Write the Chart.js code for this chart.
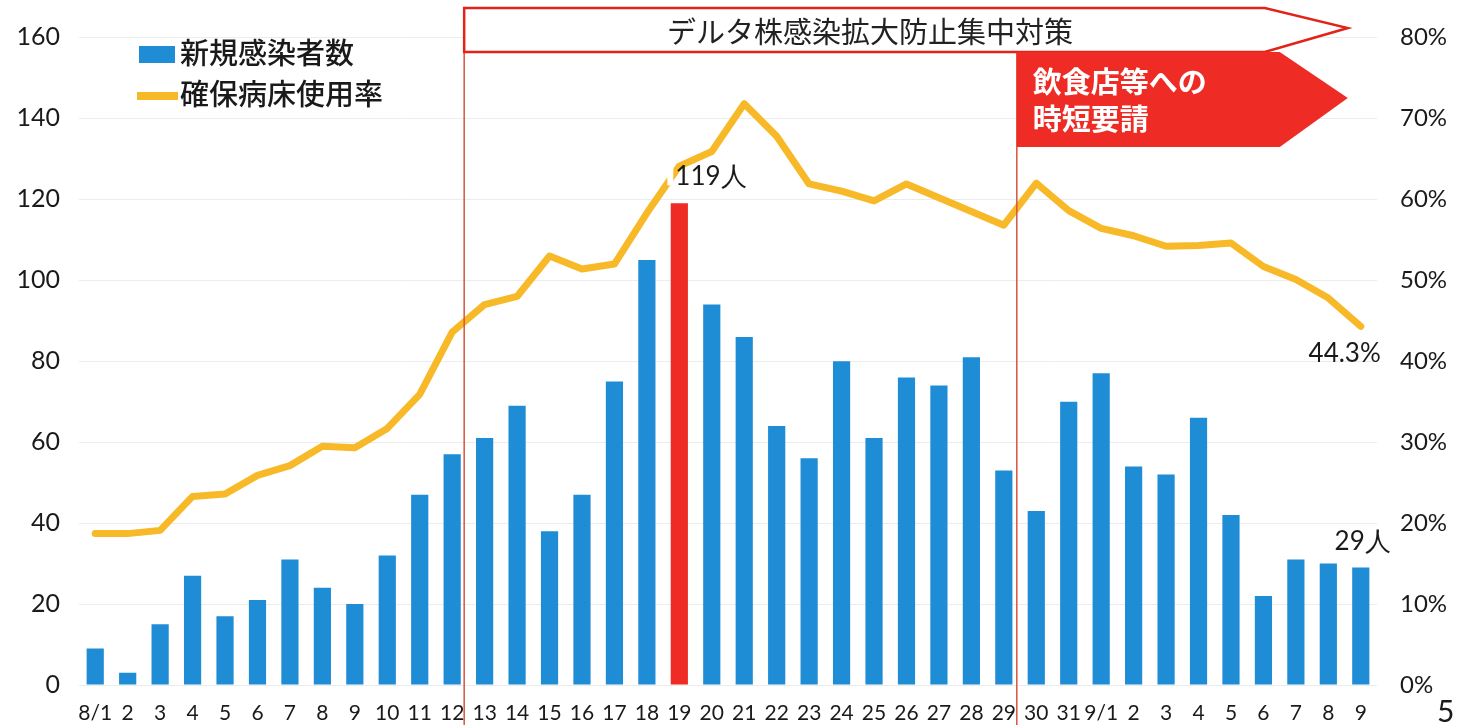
<!DOCTYPE html>
<html>
<head>
<meta charset="utf-8">
<script src="https://cdn.jsdelivr.net/npm/chart.js@4.4.0/dist/chart.umd.min.js"></script>
<style>
  body { margin: 0; background: #fff; }
  #wrap { width: 1467px; height: 725px; }
</style>
</head>
<body>
<div id="wrap"><canvas id="c" width="1467" height="725"></canvas></div>
<script>
const days = ['8/1','2','3','4','5','6','7','8','9','10','11','12','13','14','15','16','17','18','19','20',
  '21','22','23','24','25','26','27','28','29','30','31','9/1','2','3','4','5','6','7','8','9'];
const newCases = [9, 3, 15, 27, 17, 21, 31, 24, 20, 32, 47, 57, 61, 69, 38, 47, 75, 105, 119, 94,
  86, 64, 56, 80, 61, 76, 74, 81, 53, 43, 70, 77, 54, 52, 66, 42, 22, 31, 30, 29];
const bedRate = [18.7, 18.7, 19.1, 23.3, 23.6, 25.9, 27.1, 29.5, 29.3, 31.7, 35.9, 43.6, 47.0, 48.0, 53.0, 51.4, 52.0, 58.3, 64.1, 65.9,
  71.8, 67.8, 61.9, 61.0, 59.8, 61.9, 60.2, 58.5, 56.8, 62.0, 58.6, 56.4, 55.5, 54.2, 54.3, 54.6, 51.7, 50.1, 47.8, 44.3];
const leftTicks = [0, 20, 40, 60, 80, 100, 120, 140, 160];
const rightTicks = ['0%', '10%', '20%', '30%', '40%', '50%', '60%', '70%', '80%'];

const BLUE = '#1F8DD6';
const RED = '#EE2B24';
const GOLD = '#F8B928';
const JP = '"Noto Sans CJK JP", sans-serif';
const NUM = 'Lato, "Open Sans", sans-serif';

const peakIndex = newCases.indexOf(Math.max(...newCases));
const barColors = newCases.map((v, i) => i === peakIndex ? RED : BLUE);

const overlay = {
  id: 'overlay',
  afterDatasetsDraw(chart) {
    const ctx = chart.ctx;
    const xs = chart.scales.x;
    const ys = chart.scales.y;
    const y1 = chart.scales.y1;
    const step = xs.getPixelForValue(1) - xs.getPixelForValue(0);
    const xa = xs.getPixelForValue(11) + step * 0.37;
    const xb = xs.getPixelForValue(28) + step * 0.4;
    const tip = xs.getPixelForValue(days.length - 1) - 13;

    ctx.save();
    // white gap in the line behind 119人
    const px = xs.getPixelForValue(peakIndex);
    const py = ys.getPixelForValue(newCases[peakIndex]);
    ctx.fillStyle = '#fff';
    ctx.fillRect(px - 12, py - 40, 6, 22);

    // vertical period lines
    ctx.strokeStyle = '#D8553F';
    ctx.lineWidth = 1.5;
    ctx.beginPath();
    ctx.moveTo(xa, 8); ctx.lineTo(xa, 725);
    ctx.moveTo(xb, 52); ctx.lineTo(xb, 725);
    ctx.stroke();

    // top banner arrow
    ctx.beginPath();
    ctx.moveTo(xa, 8);
    ctx.lineTo(tip - 83, 8);
    ctx.lineTo(tip, 28);
    ctx.lineTo(tip - 83, 52);
    ctx.lineTo(xa, 52);
    ctx.closePath();
    ctx.fillStyle = '#fff';
    ctx.fill();
    ctx.strokeStyle = '#E2231A';
    ctx.lineWidth = 2.5;
    ctx.stroke();
    ctx.fillStyle = '#222';
    ctx.font = '29px ' + JP;
    ctx.textAlign = 'center';
    ctx.textBaseline = 'middle';
    ctx.fillText('デルタ株感染拡大防止集中対策', 870, 32);

    // red arrow box
    ctx.beginPath();
    ctx.moveTo(xb, 52);
    ctx.lineTo(tip - 68, 52);
    ctx.lineTo(tip, 98);
    ctx.lineTo(tip - 68, 147);
    ctx.lineTo(xb, 147);
    ctx.closePath();
    ctx.fillStyle = RED;
    ctx.fill();
    ctx.fillStyle = '#fff';
    ctx.font = 'bold 29px ' + JP;
    ctx.textAlign = 'left';
    ctx.fillText('飲食店等への', xb + 16, 82);
    ctx.fillText('時短要請', xb + 16, 119);

    // legend
    ctx.fillStyle = BLUE;
    ctx.fillRect(139, 46, 36, 17);
    ctx.strokeStyle = GOLD;
    ctx.lineWidth = 8;
    ctx.beginPath();
    ctx.moveTo(137, 96); ctx.lineTo(178, 96);
    ctx.stroke();
    ctx.fillStyle = '#1a1a1a';
    ctx.font = '500 29px ' + JP;
    ctx.fillText('新規感染者数', 180, 53);
    ctx.fillText('確保病床使用率', 180, 94);

    // value callouts
    ctx.fillStyle = '#1a1a1a';
    ctx.font = '26px ' + NUM;
    ctx.fillText(newCases[peakIndex] + '人', px - 4, py - 27);
    const last = days.length - 1;
    const lx = xs.getPixelForValue(last);
    ctx.textAlign = 'right';
    ctx.fillText(bedRate[last].toFixed(1) + '%', lx + 20, y1.getPixelForValue(bedRate[last]) + 27);
    ctx.fillText(newCases[last] + '人', lx + 30, ys.getPixelForValue(newCases[last]) - 26);

    // page number
    ctx.textAlign = 'left';
    ctx.font = '30px ' + NUM;
    ctx.fillText('5', 1437, 712);
    ctx.restore();
  }
};

new Chart(document.getElementById('c'), {
  data: {
    labels: days,
    datasets: [
      {
        type: 'line',
        label: '確保病床使用率',
        data: bedRate,
        yAxisID: 'y1',
        borderColor: GOLD,
        borderWidth: 7,
        pointRadius: 0,
        tension: 0,
        borderJoinStyle: 'round',
        borderCapStyle: 'round',
        order: 0
      },
      {
        type: 'bar',
        label: '新規感染者数',
        data: newCases,
        yAxisID: 'y',
        backgroundColor: barColors,
        barPercentage: 0.53,
        categoryPercentage: 1.0,
        order: 1
      }
    ]
  },
  options: {
    responsive: false,
    animation: false,
    layout: { padding: { top: 27, left: 0, right: 0, bottom: 0 } },
    plugins: { legend: { display: false }, tooltip: { enabled: false } },
    scales: {
      x: {
        grid: { display: false },
        border: { display: false },
        ticks: { font: { family: NUM, size: 21 }, color: '#1a1a1a', maxRotation: 0, autoSkip: false, padding: 8 },
        afterFit(s) { s.height = 40; }
      },
      y: {
        position: 'left',
        min: 0, max: 160,
        afterBuildTicks(s) { s.ticks = leftTicks.map(v => ({ value: v })); },
        grid: { color: '#ECECEC', drawTicks: false },
        border: { display: false },
        ticks: { font: { family: NUM, size: 25 }, color: '#1a1a1a', padding: 19 },
        afterFit(s) { s.width = 79; }
      },
      y1: {
        position: 'right',
        min: 0, max: 80,
        afterBuildTicks(s) { s.ticks = rightTicks.map(t => ({ value: parseFloat(t) })); },
        grid: { display: false, drawTicks: false },
        border: { display: false },
        ticks: {
          font: { family: NUM, size: 24 }, color: '#1a1a1a', padding: 23,
          callback: (v, i) => rightTicks[i]
        },
        afterFit(s) { s.width = 90; }
      }
    }
  },
  plugins: [overlay]
});
</script>
</body>
</html>
